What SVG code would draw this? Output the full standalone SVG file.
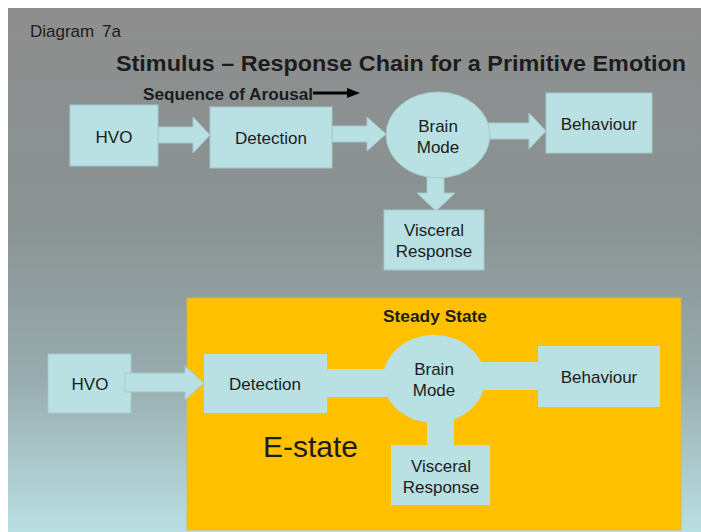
<svg xmlns="http://www.w3.org/2000/svg" width="701" height="532" viewBox="0 0 701 532">
  <defs>
    <linearGradient id="bg" x1="0" y1="0" x2="0" y2="1">
      <stop offset="0" stop-color="#8e8e8e"/>
      <stop offset="0.4" stop-color="#8a9292"/>
      <stop offset="0.7" stop-color="#98abae"/>
      <stop offset="1" stop-color="#b9dfe2"/>
    </linearGradient>
    <style>
      text { font-family: "Liberation Sans", Arial, sans-serif; fill: #1c1c1c; }
      .lbl { font-size: 17px; text-anchor: middle; }
      .box { fill: #b9e0e3; stroke: #a3c9cd; stroke-width: 1; }
      .boxb { fill: #b9e0e3; }
      .arr { fill: #b9e0e3; stroke: #a3c9cd; stroke-width: 1; }
      .bar { fill: #b9e0e3; }
    </style>
  </defs>
  <rect x="0" y="0" width="701" height="532" fill="#ffffff"/>
  <rect x="8" y="8" width="693" height="524" fill="url(#bg)"/>

  <text x="30" y="37" style="font-size:17px">Diagram<tspan x="102">7a</tspan></text>
  <text x="116" y="71" style="font-size:21.5px;font-weight:bold" textLength="570" lengthAdjust="spacingAndGlyphs">Stimulus – Response Chain for a Primitive Emotion</text>
  <text x="143" y="100" style="font-size:16px;font-weight:bold" textLength="170" lengthAdjust="spacingAndGlyphs">Sequence of Arousal</text>

  <rect id="steady-state" x="187" y="298" width="494" height="232" fill="#ffc000" stroke="#d9b64a" stroke-width="0.8"/>
  <text x="383" y="322" style="font-size:17px;font-weight:bold" textLength="104" lengthAdjust="spacingAndGlyphs">Steady State</text>
  <text x="263" y="457" style="font-size:30px">E-state</text>

  <g id="connectors">
    <line x1="313" y1="93" x2="350" y2="93" stroke="#000" stroke-width="3"/>
    <polygon points="347,88 360,93 347,98" fill="#000"/>
    <polygon class="arr" points="158,127 193,127 193,117 210,135 193,153 193,143 158,143"/>
    <polygon class="arr" points="332,126 367,126 367,117 386,134 367,151 367,142 332,142"/>
    <polygon class="arr" points="488,123 529,123 529,113 546,131 529,149 529,139 488,139"/>
    <polygon class="arr" points="427,174 444,174 444,193 455,193 436,211 417,193 427,193"/>
    <rect class="bar" x="325" y="369" width="70" height="28"/>
    <rect class="bar" x="470" y="362" width="70" height="28"/>
    <rect class="bar" x="427" y="410" width="27" height="37"/>
  </g>

  <g id="hvo-top">
    <rect class="box" x="70" y="105" width="88" height="61"/>
    <text class="lbl" x="114" y="143">HVO</text>
  </g>
  <g id="detection-top">
    <rect class="box" x="210" y="107" width="122" height="61"/>
    <text class="lbl" x="271" y="144">Detection</text>
  </g>
  <g id="brain-top">
    <ellipse class="box" cx="438" cy="135" rx="52" ry="43"/>
    <text class="lbl" x="438" y="132">Brain</text>
    <text class="lbl" x="438" y="153">Mode</text>
  </g>
  <g id="behaviour-top">
    <rect class="box" x="546" y="93" width="106" height="60"/>
    <text class="lbl" x="599" y="130">Behaviour</text>
  </g>
  <g id="visceral-top">
    <rect class="box" x="384" y="210" width="100" height="60"/>
    <text class="lbl" x="434" y="236">Visceral</text>
    <text class="lbl" x="434" y="257">Response</text>
  </g>

  <g id="hvo-bottom">
    <rect class="boxb" x="48" y="354" width="83" height="59" stroke="#a3c9cd" stroke-width="0.8"/>
    <text class="lbl" x="90" y="390">HVO</text>
  </g>
  <g id="arrow-bottom">
    <polygon class="arr" points="125,373 185,373 185,366 204,383 185,400 185,392 125,392"/>
  </g>
  <g id="detection-bottom">
    <rect class="boxb" x="204" y="354" width="123" height="59"/>
    <text class="lbl" x="265" y="390">Detection</text>
  </g>
  <g id="brain-bottom">
    <ellipse class="boxb" cx="434" cy="379" rx="51" ry="44"/>
    <text class="lbl" x="434" y="375">Brain</text>
    <text class="lbl" x="434" y="396">Mode</text>
  </g>
  <g id="behaviour-bottom">
    <rect class="boxb" x="538" y="346" width="122" height="61"/>
    <text class="lbl" x="599" y="383">Behaviour</text>
  </g>
  <g id="visceral-bottom">
    <rect class="boxb" x="391" y="445" width="99" height="60"/>
    <text class="lbl" x="441" y="472">Visceral</text>
    <text class="lbl" x="441" y="493">Response</text>
  </g>
</svg>
